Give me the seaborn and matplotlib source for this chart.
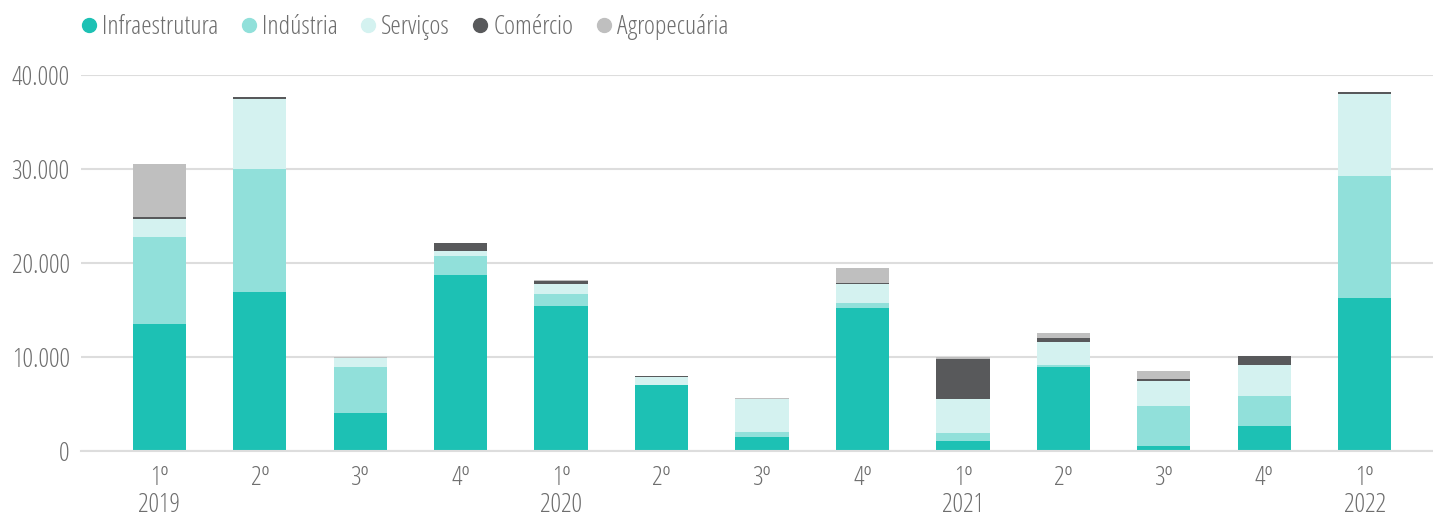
import numpy as np
import pandas as pd
import matplotlib
matplotlib.use("Agg")
import matplotlib.pyplot as plt
from matplotlib.lines import Line2D
import seaborn as sns

# Dados
quarters = ["1º\n2019", "2º", "3º", "4º", "1º\n2020", "2º", "3º", "4º",
            "1º\n2021", "2º", "3º", "4º", "1º\n2022"]
infraestrutura = [13500, 16900, 4050, 18700, 15400, 7000, 1500, 15200, 1050, 8950, 550, 2650, 16300]
industria = [9250, 13100, 4900, 2050, 1300, 0, 500, 550, 850, 200, 4250, 3200, 13000]
servicos = [1900, 7400, 950, 500, 1050, 850, 3500, 2000, 3600, 2450, 2650, 3300, 8700]
comercio = [200, 250, 0, 850, 300, 120, 100, 120, 4300, 400, 200, 950, 150]
agropecuaria = [5650, 50, 100, 0, 200, 0, 100, 1600, 200, 550, 850, 0, 0]

series_names = ["Infraestrutura", "Indústria", "Serviços", "Comércio", "Agropecuária"]
colors = ["#1DC1B4", "#91E0DA", "#D4F2F0", "#58595B", "#BFBFBF"]

sns.set_style("white")
# Open Sans Condensed Light
plt.rcParams["font.family"] = ["Open Sans", "DejaVu Sans"]
plt.rcParams["font.stretch"] = "condensed"
plt.rcParams["font.weight"] = 300

df = pd.DataFrame({
    "key": [f"q{i}" for i in range(len(quarters))],
    "Infraestrutura": infraestrutura,
    "Indústria": industria,
    "Serviços": servicos,
    "Comércio": comercio,
    "Agropecuária": agropecuaria,
})
cum = df[series_names].cumsum(axis=1)
cum["key"] = df["key"]

fig = plt.figure(figsize=(14.33, 5.21), dpi=100)
ax = fig.add_axes([0.0565, 0.134, 0.9435, 0.722])

# empilhado: desenha os totais acumulados de cima para baixo
for name, color in reversed(list(zip(series_names, colors))):
    sns.barplot(data=cum, x="key", y=name, order=df["key"], color=color,
                width=0.53, saturation=1, ax=ax, linewidth=0)

ax.set_ylim(0, 40000)
ax.set_xlim(-0.78, 12.68)
ax.set_yticks([0, 10000, 20000, 30000, 40000])
ax.set_yticklabels([f"{v:,}".replace(",", ".") for v in [0, 10000, 20000, 30000, 40000]])
ax.set_xticks(range(len(quarters)))
ax.set_xticklabels(quarters, linespacing=1.1)
ax.set_xlabel("")
ax.set_ylabel("")
ax.yaxis.grid(True, color="#DDDDDD", linewidth=1.5)
ax.set_axisbelow(True)
for s in ["top", "right", "left"]:
    ax.spines[s].set_visible(False)
ax.spines["bottom"].set_color("#DDDDDD")
ax.spines["bottom"].set_linewidth(1.5)
ax.tick_params(axis="both", length=0, labelsize=19, labelcolor="#6E6E6E")
ax.tick_params(axis="y", pad=8)
ax.tick_params(axis="x", pad=11)

handles = [Line2D([], [], marker="o", linestyle="", markersize=10,
                  markerfacecolor=c, markeredgecolor=c) for c in colors]
fig.legend(handles, series_names, loc="center left", bbox_to_anchor=(0.049, 0.948),
           ncol=5, frameon=False, fontsize=19, handlelength=0.6, handletextpad=0.2,
           columnspacing=0.85, labelcolor="#6E6E6E", borderaxespad=0)

fig.savefig("out.png", dpi=100)
